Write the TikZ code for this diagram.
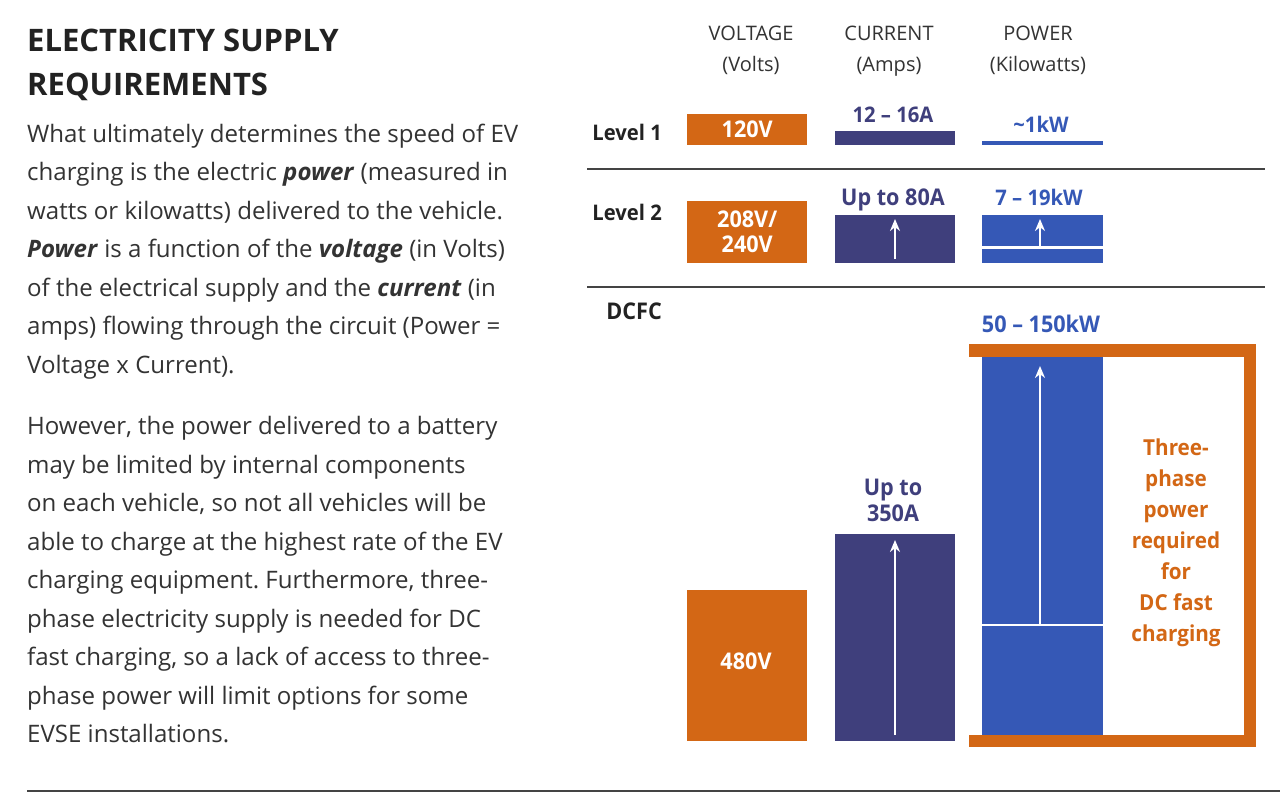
\documentclass[tikz,border=0pt]{standalone}
\usepackage{fontspec}
\setmainfont{Open Sans}
\newfontfamily\labfont[FakeStretch=0.94]{Open Sans}
\frenchspacing
\usetikzlibrary{arrows.meta}
\definecolor{ora}{HTML}{D36715}
\definecolor{nav}{HTML}{3F3F7C}
\definecolor{blu}{HTML}{3558B6}
\definecolor{ink}{HTML}{333333}
\definecolor{dark}{HTML}{222222}
\definecolor{rulec}{HTML}{444444}
\tikzset{
  body/.style={anchor=base west,inner sep=0pt,font=\fontsize{24.05}{29}\selectfont,text=ink},
  title/.style={anchor=base west,inner sep=0pt,font=\fontsize{31}{36}\selectfont\bfseries,text=dark},
  head/.style={anchor=base,inner sep=0pt,align=center,font=\fontsize{20}{31}\selectfont,text=ink},
  lev/.style={anchor=base east,inner sep=0pt,font=\labfont\fontsize{21.5}{25}\selectfont\bfseries,text=dark},
  val/.style={anchor=base,inner sep=0pt,font=\labfont\fontsize{21.5}{25}\selectfont\bfseries},
  valbig/.style={val,font=\labfont\fontsize{23}{25}\selectfont\bfseries},
  inbar/.style={inner sep=0pt,align=center,text=white,font=\labfont\fontsize{23}{28}\selectfont\bfseries},
  sep/.style={draw=rulec,line width=1.2pt},
  uparrow/.style={draw=white,line width=2.4pt,-{Stealth[length=12pt,width=10pt]}},
  thin white/.style={draw=white,line width=2.6pt},
}
\newcommand{\barbox}[7]{% name x0 y0 x1 y1 colour text
  \pgfmathsetmacro{\bw}{#4-#2}\pgfmathsetmacro{\bh}{#5-#3}
  \node[inbar,fill=#6,minimum width=\bw pt,minimum height=\bh pt,anchor=north west] (#1) at (#2,#3) {#7};}
\newcommand{\bodyline}[2]{\node[body] at (27,#1) {#2};}
\newcommand{\bi}[1]{\textbf{\textit{#1}}}
\begin{document}
\begin{tikzpicture}[x=1pt,y=-1pt]
\useasboundingbox (0,0) rectangle (1280,807);
\fill[white] (0,0) rectangle (1280,807);
% left text
\node[title] at (27,51) {ELECTRICITY SUPPLY};
\node[title] at (27,95) {REQUIREMENTS};
\bodyline{142}{What ultimately determines the speed of EV}
\bodyline{180.5}{charging is the electric \bi{power} (measured in}
\bodyline{219}{watts or kilowatts) delivered to the vehicle.}
\bodyline{257.5}{\bi{Power} is a function of the \bi{voltage} (in Volts)}
\bodyline{296}{of the electrical supply and the \bi{current} (in}
\bodyline{334.5}{amps) flowing through the circuit (Power =}
\bodyline{373}{Voltage x Current).}
\bodyline{434.5}{However, the power delivered to a battery}
\bodyline{473}{may be limited by internal components}
\bodyline{511.5}{on each vehicle, so not all vehicles will be}
\bodyline{550}{able to charge at the highest rate of the EV}
\bodyline{588.5}{charging equipment. Furthermore, three-}
\bodyline{627}{phase electricity supply is needed for DC}
\bodyline{665.5}{fast charging, so a lack of access to three-}
\bodyline{704}{phase power will limit options for some}
\bodyline{742.5}{EVSE installations.}
% headers
\node[head] (hv) at (751,71) {VOLTAGE\\(Volts)};
\node[head] (hc) at (889,71) {CURRENT\\(Amps)};
\node[head] (hp) at (1038,71) {POWER\\(Kilowatts)};
% row labels
\node[lev] (l1) at (662,140) {Level 1};
\node[lev] (l2) at (662,220) {Level 2};
\node[lev,font=\labfont\fontsize{23}{25}\selectfont\bfseries] (l3) at (662,319) {DCFC};
% separators
\coordinate (s1a) at (587,169); \coordinate (s1b) at (1265,169);
\coordinate (s2a) at (587,287); \coordinate (s2b) at (1265,287);
\coordinate (s3a) at (27,791);  \coordinate (s3b) at (1280,791);
\draw[sep] (s1a) -- (s1b);
\draw[sep] (s2a) -- (s2b);
\draw[sep] (s3a) -- (s3b);
% level 1
\barbox{v1}{687}{114}{807}{145}{ora}{120V}
\barbox{c1}{835}{131}{955}{145}{nav}{}
\barbox{p1}{982}{141}{1103}{145}{blu}{}
\node[val,text=nav] (tc1) at (893,122) {12 – 16A};
\node[val,text=blu] (tp1) at (1041,132) {\char`\~1kW};
% level 2
\barbox{v2}{687}{201}{807}{263}{ora}{208V/\\[-3pt]240V}
\barbox{c2}{835}{215}{955}{263}{nav}{}
\barbox{p2}{982}{215}{1103}{263}{blu}{}
\node[valbig,text=nav] (tc2) at (893,205) {Up to 80A};
\node[val,text=blu] (tp2) at (1039,205) {7 – 19kW};
\coordinate (c2b) at (895,259); \coordinate (c2t) at (895,219);
\coordinate (p2b) at (1040,247); \coordinate (p2t) at (1040,219);
\coordinate (p2l) at (982,247.5); \coordinate (p2r) at (1103,247.5);
\draw[thin white] (p2l) -- (p2r);
\draw[uparrow] (c2b) -- (c2t);
\draw[uparrow] (p2b) -- (p2t);
% DCFC
\fill[ora] (969,344) rectangle (1256,357);
\fill[ora] (969,735) rectangle (1256,747);
\fill[ora] (1244,344) rectangle (1256,747);
\barbox{v3}{687}{590}{807}{741}{ora}{}
\node[inbar] (t3) at (746,661) {480V};
\barbox{c3}{835}{534}{955}{741}{nav}{}
\barbox{p3}{982}{357}{1103}{735}{blu}{}
\node[valbig,text=blu] (tp3) at (1041,332) {50 – 150kW};
\node[inbar,text=nav,font=\labfont\fontsize{23}{26}\selectfont\bfseries,anchor=south] (tc3) at (893,522) {Up to\\350A};
\coordinate (c3b) at (895,735); \coordinate (c3t) at (895,540);
\coordinate (p3b) at (1040,625); \coordinate (p3t) at (1040,366);
\coordinate (p3l) at (982,625); \coordinate (p3r) at (1103,625);
\draw[thin white] (p3l) -- (p3r);
\draw[uparrow] (c3b) -- (c3t);
\draw[uparrow] (p3b) -- (p3t);
\node[inbar,text=ora,font=\labfont\fontsize{22}{31}\selectfont\bfseries] (tp) at (1176,543) {Three-\\phase\\power\\required\\for\\DC fast\\charging};
\end{tikzpicture}
\end{document}
